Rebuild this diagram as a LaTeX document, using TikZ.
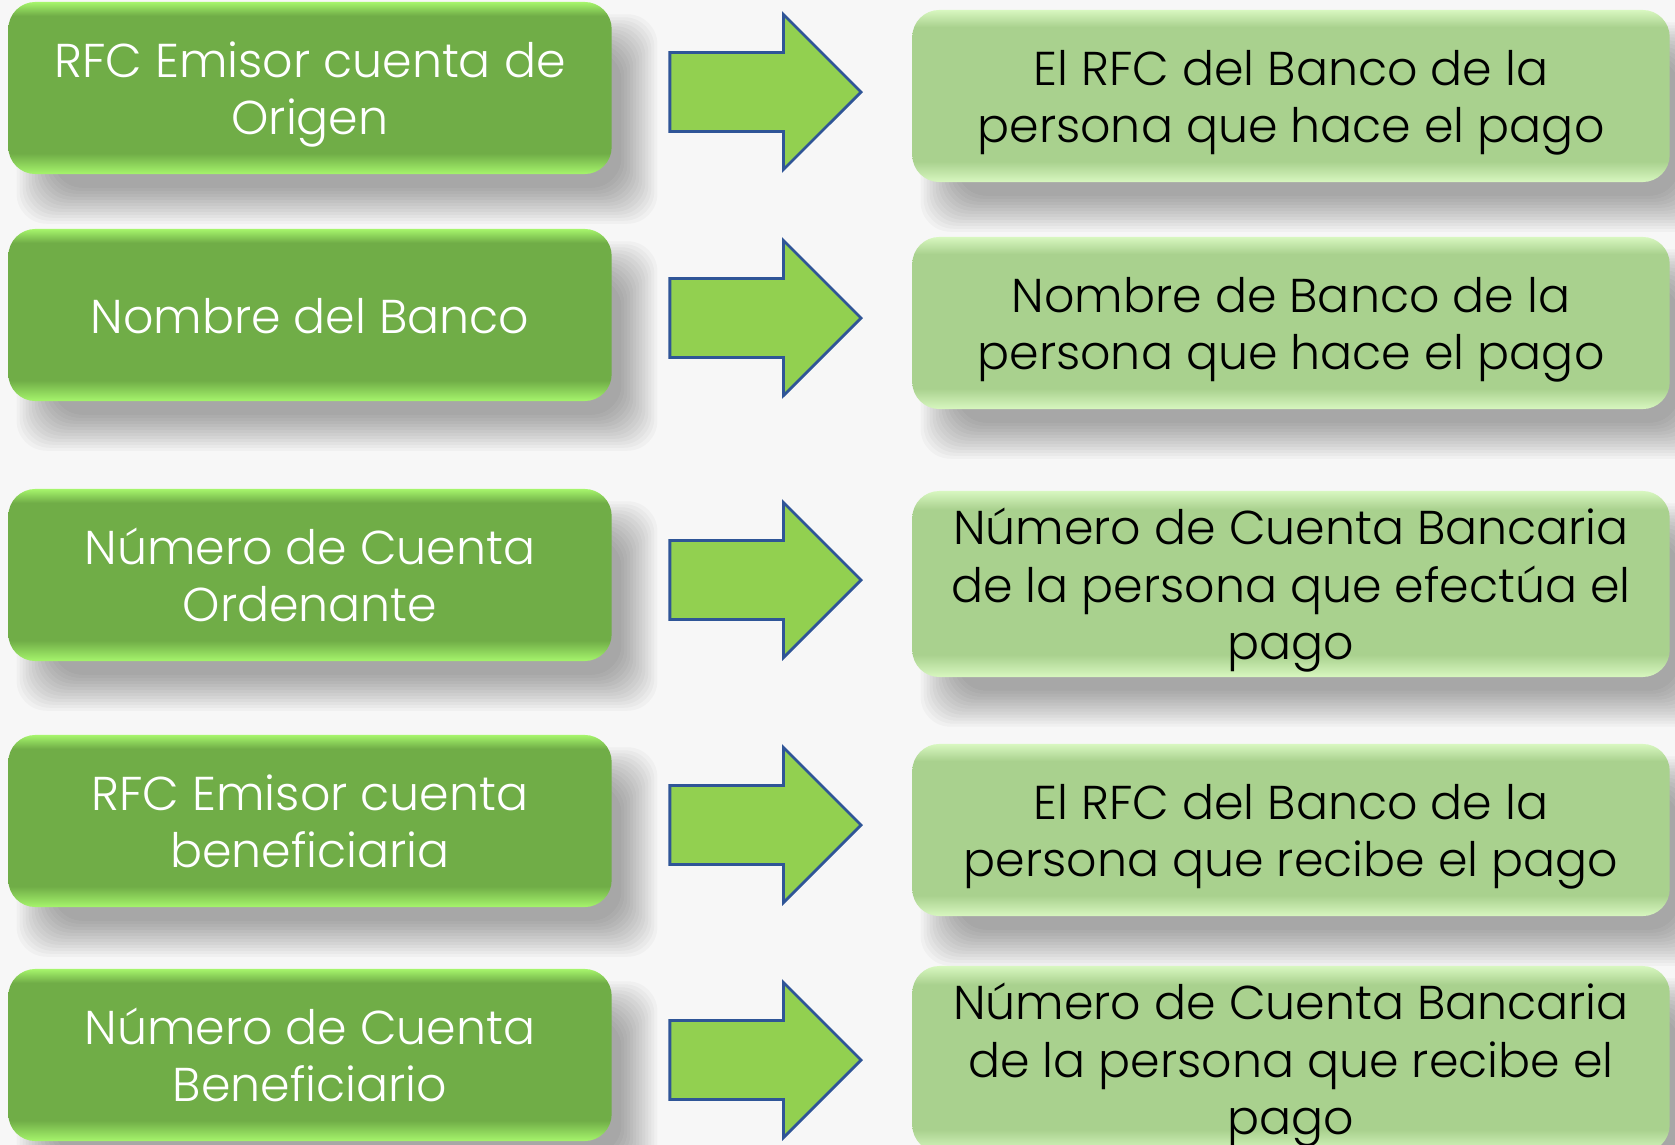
\documentclass[tikz,border=0pt]{standalone}
\usepackage{fontspec}
\setmainfont{Poppins}[UprightFont=* Light]
\usetikzlibrary{shapes.arrows,backgrounds}
\definecolor{fondo}{HTML}{F7F7F7}
\definecolor{lbase}{HTML}{70AD47}
\definecolor{lglow}{HTML}{A6F56C}
\definecolor{rbase}{HTML}{A9D18E}
\definecolor{rglow}{HTML}{D8F7C0}
\definecolor{afill}{HTML}{92D050}
\definecolor{aline}{HTML}{2F5597}
\pgfdeclareverticalshading{lshade}{100bp}{color(0bp)=(lglow); color(25bp)=(lglow); color(31bp)=(lbase); color(71bp)=(lbase); color(75bp)=(lglow); color(100bp)=(lglow)}
\pgfdeclareverticalshading{rshade}{100bp}{color(0bp)=(rglow); color(25bp)=(rglow); color(31bp)=(rbase); color(70bp)=(rbase); color(75bp)=(rglow); color(100bp)=(rglow)}
\def\topstrut{\spaceskip=\fontdimen2\font\xspaceskip=\fontdimen2\font\rule{0pt}{15.2pt}}
\def\botstrut{\rule[-4.9pt]{0pt}{4.9pt}}
\tikzset{
  box/.style={rectangle, rounded corners=0.27cm, minimum height=1.72cm, inner sep=0pt,
    align=center, font=\fontsize{13.5}{16.4}\selectfont,
    execute at begin node=\topstrut, execute at end node=\botstrut},
  lbox/.style={box, text width=6.03cm, text=white, shading=lshade},
  rbox/.style={box, text width=7.57cm, text=black, shading=rshade},
  barrow/.style={single arrow, fill=afill, draw=aline, line width=0.8pt,
    inner xsep=0pt, inner ysep=0.38cm, outer sep=0pt, minimum height=1.91cm,
    single arrow head extend=0.38cm, anchor=tip},
  blurlayer/.style={fill=black, opacity=0.027, rounded corners=0.3cm}
}

\begin{document}
\begin{tikzpicture}[x=0.01cm,y=-0.01cm]
  \useasboundingbox (0,0) rectangle (1675,1145);
  % origen
  \node[lbox] (o1) at (310,88)   {RFC Emisor cuenta de\\Origen};
  \node[lbox] (o2) at (310,315)  {Nombre del Banco};
  \node[lbox] (o3) at (310,575)  {Número de Cuenta\\Ordenante};
  \node[lbox] (o4) at (310,821)  {RFC Emisor cuenta\\beneficiaria};
  \node[lbox] (o5) at (310,1055) {Número de Cuenta\\Beneficiario};
  % flechas
  \node[barrow] (f1) at (861,92)   {};
  \node[barrow] (f2) at (861,318)  {};
  \node[barrow] (f3) at (861,580)  {};
  \node[barrow] (f4) at (861,825)  {};
  \node[barrow] (f5) at (861,1060) {};
  % descripcion
  \node[rbox] (d1) at (1291,96)   {El RFC del Banco de la\\persona que hace el pago};
  \node[rbox] (d2) at (1291,323)  {Nombre de Banco de la\\persona que hace el pago};
  \node[rbox] (d3) at (1291,584)  {Número de Cuenta Bancaria\\de la persona que efectúa el\\pago};
  \node[rbox] (d4) at (1291,830)  {El RFC del Banco de la\\persona que recibe el pago};
  \node[rbox] (d5) at (1291,1059) {Número de Cuenta Bancaria\\de la persona que recibe el\\pago};
  % fondo y sombras
  \begin{scope}[on background layer]
    \fill[fondo] (0,0) rectangle (1675,1145);
    \foreach \n in {o1,o2,o3,o4,o5,d1,d2,d3,d4,d5}
      \foreach \e in {-18,-15,...,18}
        \fill[blurlayer] ([shift={(27-\e,31-\e)}]\n.north west)
          rectangle ([shift={(27+\e,31+\e)}]\n.south east);
  \end{scope}
\end{tikzpicture}
\end{document}
